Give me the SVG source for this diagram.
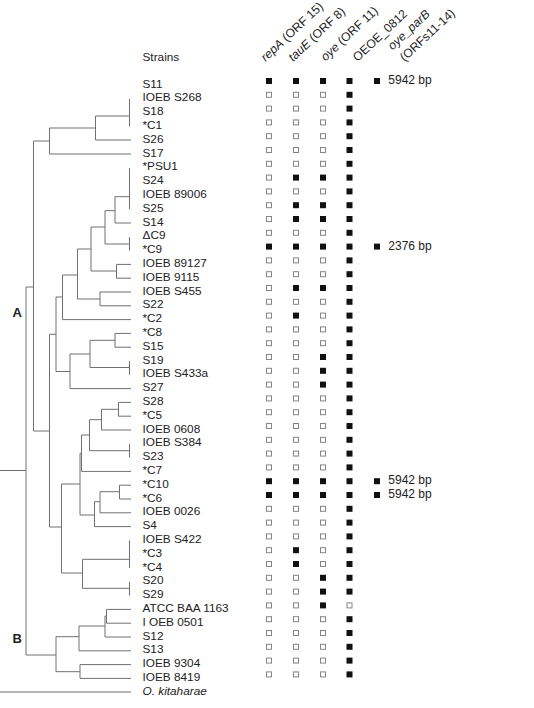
<svg xmlns="http://www.w3.org/2000/svg" xmlns:xlink="http://www.w3.org/1999/xlink" width="534" height="708" viewBox="0 0 534 708">
<style>
text{font-family:"Liberation Sans",Arial,sans-serif;fill:#222}
.s{font-size:11.8px}
.h{font-size:12.2px}
.bp{font-size:12px}
.cl{font-size:13px;font-weight:bold}
.i{font-style:italic}
.tree{fill:none;stroke:#707070;stroke-width:1}
</style>
<defs>
<rect id="f" x="-3" y="-3" width="6" height="6" fill="#111"/>
<rect id="e" x="-2.5" y="-2.5" width="5" height="5" fill="#fff" stroke="#858585" stroke-width="1"/>
</defs>
<rect width="534" height="708" fill="#fff"/>
<g id="header">
<text class="s" x="142.5" y="61">Strains</text>
<text class="h" transform="translate(265.5,62) rotate(-43)"><tspan class="i">repA</tspan> (ORF 15)</text>
<text class="h" transform="translate(293,62) rotate(-43)"><tspan class="i">tauE</tspan> (ORF 8)</text>
<text class="h" transform="translate(325.5,61.5) rotate(-43)"><tspan class="i">oye</tspan> (ORF 11)</text>
<text class="h" transform="translate(357.5,62) rotate(-43)">OEOE_0812</text>
<text class="h i" transform="translate(392.5,50.5) rotate(-43)">oye_parB</text>
<text class="h" transform="translate(404.5,62) rotate(-43)">(ORFs11-14)</text>
</g>
<g id="clade-labels">
<text class="cl" x="12.5" y="316.7">A</text>
<text class="cl" x="12.5" y="642.7">B</text>
</g>
<g id="connectors" class="tree">
<path d="M129.5,99V126.5M95.5,116H129.5M95.5,116V140H131M49.5,128V154H131M49.5,128H95.5M33.5,141H49.5M33.5,141V431H49.5M26,287H33.5M26,287V655H56M0,470.5H26M0,692H131"/>
<path d="M129.5,168V209M115,196.7H129.5M115,196.7V223H131M105,210.7H115M105,210.7V244H129.5M129.5,237V250.6M91,227H105M91,227V271H116.5M116.5,264.4V278.2M116.5,264.4H131M116.5,278.2H131M77.5,249H91M77.5,249V299H100M100,292V305.8M100,292H131M100,305.8H131M62.5,275H77.5M62.5,275V319.6H131M56,297H62.5M56,297V371.5H70M70,354V388.6H131M70,354H90M90,340.3V367.5H129.5M129.5,361V374.8M90,340.3H115M115,333.4V347.2M115,333.4H131M115,347.2H131M49.5,334.3H56M49.5,334.3V527H61.5"/>
<path d="M61.5,484V573H82.5M82.5,559.3V588.3M82.5,559.3H129.5M129.5,540.4V568M82.5,588.3H129.5M129.5,581.8V595.6M61.5,484H80M80,453.3V515H94.5M80,453.3H81.5M81.5,435V471.4H131M81.5,435H89.5M89.5,419.7V450.7H129.5M129.5,443.8V457.6M89.5,419.7H101.5M101.5,409.3V430H131M101.5,409.3H118.5M118.5,402.4V416.2M118.5,402.4H131M118.5,416.2H131M94.5,501.7V526.6H131M94.5,501.7H100M100,491.7V512.8H131M100,491.7H119.5M119.5,485.2V499M119.5,485.2H131M119.5,499H131"/>
<path d="M56,636.7V671.7H80M80,664.6V678.4M80,664.6H131M80,678.4H131M56,636.7H79M79,626V650.8H131M79,626H105M105,616V637H131M105,616H106.5M106.5,609.4V623.2M106.5,609.4H131M106.5,623.2H131"/>
</g>
<g id="r00"><text class="s" x="142.5" y="87.7">S11</text><use href="#f" x="269" y="81"/><use href="#f" x="296" y="81"/><use href="#f" x="323" y="81"/><use href="#f" x="349.5" y="81"/><use href="#f" x="377" y="81"/><text class="bp" x="388.3" y="84.3">5942 bp</text></g>
<g id="r01" transform="translate(0,13.8)"><text class="s" x="142.5" y="87.7">IOEB S268</text><use href="#e" x="269" y="81"/><use href="#e" x="296" y="81"/><use href="#e" x="323" y="81"/><use href="#f" x="349.5" y="81"/></g>
<g id="r02" transform="translate(0,27.6)"><text class="s" x="142.5" y="87.7">S18</text><use href="#e" x="269" y="81"/><use href="#e" x="296" y="81"/><use href="#e" x="323" y="81"/><use href="#f" x="349.5" y="81"/></g>
<g id="r03" transform="translate(0,41.4)"><text class="s" x="142.5" y="87.7">*C1</text><use href="#e" x="269" y="81"/><use href="#e" x="296" y="81"/><use href="#e" x="323" y="81"/><use href="#f" x="349.5" y="81"/></g>
<g id="r04" transform="translate(0,55.2)"><text class="s" x="142.5" y="87.7">S26</text><use href="#e" x="269" y="81"/><use href="#e" x="296" y="81"/><use href="#e" x="323" y="81"/><use href="#f" x="349.5" y="81"/></g>
<g id="r05" transform="translate(0,69)"><text class="s" x="142.5" y="87.7">S17</text><use href="#e" x="269" y="81"/><use href="#e" x="296" y="81"/><use href="#e" x="323" y="81"/><use href="#f" x="349.5" y="81"/></g>
<g id="r06" transform="translate(0,82.8)"><text class="s" x="142.5" y="87.7">*PSU1</text><use href="#e" x="269" y="81"/><use href="#e" x="296" y="81"/><use href="#e" x="323" y="81"/><use href="#f" x="349.5" y="81"/></g>
<g id="r07" transform="translate(0,96.6)"><text class="s" x="142.5" y="87.7">S24</text><use href="#e" x="269" y="81"/><use href="#f" x="296" y="81"/><use href="#f" x="323" y="81"/><use href="#f" x="349.5" y="81"/></g>
<g id="r08" transform="translate(0,110.4)"><text class="s" x="142.5" y="87.7">IOEB 89006</text><use href="#e" x="269" y="81"/><use href="#e" x="296" y="81"/><use href="#e" x="323" y="81"/><use href="#f" x="349.5" y="81"/></g>
<g id="r09" transform="translate(0,124.2)"><text class="s" x="142.5" y="87.7">S25</text><use href="#e" x="269" y="81"/><use href="#f" x="296" y="81"/><use href="#f" x="323" y="81"/><use href="#f" x="349.5" y="81"/></g>
<g id="r10" transform="translate(0,138)"><text class="s" x="142.5" y="87.7">S14</text><use href="#e" x="269" y="81"/><use href="#f" x="296" y="81"/><use href="#f" x="323" y="81"/><use href="#f" x="349.5" y="81"/></g>
<g id="r11" transform="translate(0,151.8)"><text class="s" x="142.5" y="87.7">ΔC9</text><use href="#e" x="269" y="81"/><use href="#e" x="296" y="81"/><use href="#e" x="323" y="81"/><use href="#f" x="349.5" y="81"/></g>
<g id="r12" transform="translate(0,165.6)"><text class="s" x="142.5" y="87.7">*C9</text><use href="#f" x="269" y="81"/><use href="#f" x="296" y="81"/><use href="#f" x="323" y="81"/><use href="#f" x="349.5" y="81"/><use href="#f" x="377" y="81"/><text class="bp" x="388.3" y="84.3">2376 bp</text></g>
<g id="r13" transform="translate(0,179.4)"><text class="s" x="142.5" y="87.7">IOEB 89127</text><use href="#e" x="269" y="81"/><use href="#e" x="296" y="81"/><use href="#e" x="323" y="81"/><use href="#f" x="349.5" y="81"/></g>
<g id="r14" transform="translate(0,193.2)"><text class="s" x="142.5" y="87.7">IOEB 9115</text><use href="#e" x="269" y="81"/><use href="#e" x="296" y="81"/><use href="#e" x="323" y="81"/><use href="#f" x="349.5" y="81"/></g>
<g id="r15" transform="translate(0,207)"><text class="s" x="142.5" y="87.7">IOEB S455</text><use href="#e" x="269" y="81"/><use href="#f" x="296" y="81"/><use href="#f" x="323" y="81"/><use href="#f" x="349.5" y="81"/></g>
<g id="r16" transform="translate(0,220.8)"><text class="s" x="142.5" y="87.7">S22</text><use href="#e" x="269" y="81"/><use href="#e" x="296" y="81"/><use href="#e" x="323" y="81"/><use href="#f" x="349.5" y="81"/></g>
<g id="r17" transform="translate(0,234.6)"><text class="s" x="142.5" y="87.7">*C2</text><use href="#e" x="269" y="81"/><use href="#f" x="296" y="81"/><use href="#e" x="323" y="81"/><use href="#f" x="349.5" y="81"/></g>
<g id="r18" transform="translate(0,248.4)"><text class="s" x="142.5" y="87.7">*C8</text><use href="#e" x="269" y="81"/><use href="#e" x="296" y="81"/><use href="#e" x="323" y="81"/><use href="#f" x="349.5" y="81"/></g>
<g id="r19" transform="translate(0,262.2)"><text class="s" x="142.5" y="87.7">S15</text><use href="#e" x="269" y="81"/><use href="#e" x="296" y="81"/><use href="#e" x="323" y="81"/><use href="#f" x="349.5" y="81"/></g>
<g id="r20" transform="translate(0,276)"><text class="s" x="142.5" y="87.7">S19</text><use href="#e" x="269" y="81"/><use href="#e" x="296" y="81"/><use href="#f" x="323" y="81"/><use href="#f" x="349.5" y="81"/></g>
<g id="r21" transform="translate(0,289.8)"><text class="s" x="142.5" y="87.7">IOEB S433a</text><use href="#e" x="269" y="81"/><use href="#e" x="296" y="81"/><use href="#f" x="323" y="81"/><use href="#f" x="349.5" y="81"/></g>
<g id="r22" transform="translate(0,303.6)"><text class="s" x="142.5" y="87.7">S27</text><use href="#e" x="269" y="81"/><use href="#e" x="296" y="81"/><use href="#f" x="323" y="81"/><use href="#f" x="349.5" y="81"/></g>
<g id="r23" transform="translate(0,317.4)"><text class="s" x="142.5" y="87.7">S28</text><use href="#e" x="269" y="81"/><use href="#e" x="296" y="81"/><use href="#e" x="323" y="81"/><use href="#f" x="349.5" y="81"/></g>
<g id="r24" transform="translate(0,331.2)"><text class="s" x="142.5" y="87.7">*C5</text><use href="#e" x="269" y="81"/><use href="#e" x="296" y="81"/><use href="#e" x="323" y="81"/><use href="#f" x="349.5" y="81"/></g>
<g id="r25" transform="translate(0,345)"><text class="s" x="142.5" y="87.7">IOEB 0608</text><use href="#e" x="269" y="81"/><use href="#e" x="296" y="81"/><use href="#e" x="323" y="81"/><use href="#f" x="349.5" y="81"/></g>
<g id="r26" transform="translate(0,358.8)"><text class="s" x="142.5" y="87.7">IOEB S384</text><use href="#e" x="269" y="81"/><use href="#e" x="296" y="81"/><use href="#e" x="323" y="81"/><use href="#f" x="349.5" y="81"/></g>
<g id="r27" transform="translate(0,372.6)"><text class="s" x="142.5" y="87.7">S23</text><use href="#e" x="269" y="81"/><use href="#e" x="296" y="81"/><use href="#e" x="323" y="81"/><use href="#f" x="349.5" y="81"/></g>
<g id="r28" transform="translate(0,386.4)"><text class="s" x="142.5" y="87.7">*C7</text><use href="#e" x="269" y="81"/><use href="#e" x="296" y="81"/><use href="#e" x="323" y="81"/><use href="#f" x="349.5" y="81"/></g>
<g id="r29" transform="translate(0,400.2)"><text class="s" x="142.5" y="87.7">*C10</text><use href="#f" x="269" y="81"/><use href="#f" x="296" y="81"/><use href="#f" x="323" y="81"/><use href="#f" x="349.5" y="81"/><use href="#f" x="377" y="81"/><text class="bp" x="388.3" y="84.3">5942 bp</text></g>
<g id="r30" transform="translate(0,414)"><text class="s" x="142.5" y="87.7">*C6</text><use href="#f" x="269" y="81"/><use href="#f" x="296" y="81"/><use href="#f" x="323" y="81"/><use href="#f" x="349.5" y="81"/><use href="#f" x="377" y="81"/><text class="bp" x="388.3" y="84.3">5942 bp</text></g>
<g id="r31" transform="translate(0,427.8)"><text class="s" x="142.5" y="87.7">IOEB 0026</text><use href="#e" x="269" y="81"/><use href="#e" x="296" y="81"/><use href="#e" x="323" y="81"/><use href="#f" x="349.5" y="81"/></g>
<g id="r32" transform="translate(0,441.6)"><text class="s" x="142.5" y="87.7">S4</text><use href="#e" x="269" y="81"/><use href="#e" x="296" y="81"/><use href="#e" x="323" y="81"/><use href="#f" x="349.5" y="81"/></g>
<g id="r33" transform="translate(0,455.4)"><text class="s" x="142.5" y="87.7">IOEB S422</text><use href="#e" x="269" y="81"/><use href="#e" x="296" y="81"/><use href="#e" x="323" y="81"/><use href="#f" x="349.5" y="81"/></g>
<g id="r34" transform="translate(0,469.2)"><text class="s" x="142.5" y="87.7">*C3</text><use href="#e" x="269" y="81"/><use href="#f" x="296" y="81"/><use href="#e" x="323" y="81"/><use href="#f" x="349.5" y="81"/></g>
<g id="r35" transform="translate(0,483)"><text class="s" x="142.5" y="87.7">*C4</text><use href="#e" x="269" y="81"/><use href="#f" x="296" y="81"/><use href="#e" x="323" y="81"/><use href="#f" x="349.5" y="81"/></g>
<g id="r36" transform="translate(0,496.8)"><text class="s" x="142.5" y="87.7">S20</text><use href="#e" x="269" y="81"/><use href="#e" x="296" y="81"/><use href="#f" x="323" y="81"/><use href="#f" x="349.5" y="81"/></g>
<g id="r37" transform="translate(0,510.6)"><text class="s" x="142.5" y="87.7">S29</text><use href="#e" x="269" y="81"/><use href="#e" x="296" y="81"/><use href="#f" x="323" y="81"/><use href="#f" x="349.5" y="81"/></g>
<g id="r38" transform="translate(0,524.4)"><text class="s" x="142.5" y="87.7">ATCC BAA 1163</text><use href="#e" x="269" y="81"/><use href="#e" x="296" y="81"/><use href="#f" x="323" y="81"/><use href="#e" x="349.5" y="81"/></g>
<g id="r39" transform="translate(0,538.2)"><text class="s" x="142.5" y="87.7">I OEB 0501</text><use href="#e" x="269" y="81"/><use href="#e" x="296" y="81"/><use href="#e" x="323" y="81"/><use href="#f" x="349.5" y="81"/></g>
<g id="r40" transform="translate(0,552)"><text class="s" x="142.5" y="87.7">S12</text><use href="#e" x="269" y="81"/><use href="#e" x="296" y="81"/><use href="#e" x="323" y="81"/><use href="#f" x="349.5" y="81"/></g>
<g id="r41" transform="translate(0,565.8)"><text class="s" x="142.5" y="87.7">S13</text><use href="#e" x="269" y="81"/><use href="#e" x="296" y="81"/><use href="#e" x="323" y="81"/><use href="#f" x="349.5" y="81"/></g>
<g id="r42" transform="translate(0,579.6)"><text class="s" x="142.5" y="87.7">IOEB 9304</text><use href="#e" x="269" y="81"/><use href="#e" x="296" y="81"/><use href="#e" x="323" y="81"/><use href="#f" x="349.5" y="81"/></g>
<g id="r43" transform="translate(0,593.4)"><text class="s" x="142.5" y="87.7">IOEB 8419</text><use href="#e" x="269" y="81"/><use href="#e" x="296" y="81"/><use href="#e" x="323" y="81"/><use href="#f" x="349.5" y="81"/></g>
<g id="r44" transform="translate(0,607.2)"><text class="s i" x="142.5" y="87.7">O. kitaharae</text></g>
</svg>
